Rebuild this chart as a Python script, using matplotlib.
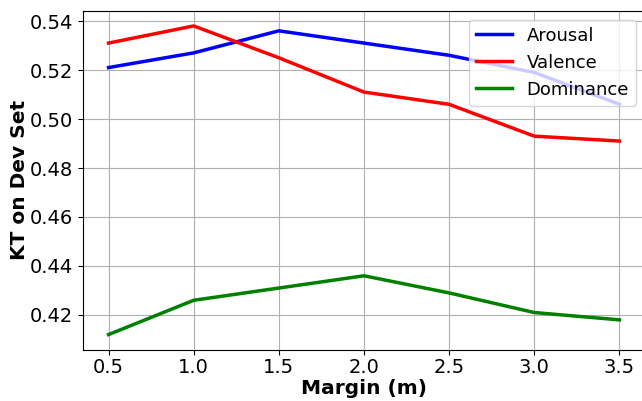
import matplotlib
matplotlib.use("Agg")
import matplotlib.pyplot as plt

margin = [0.5, 1.0, 1.5, 2.0, 2.5, 3.0, 3.5]
arousal = [0.521, 0.527, 0.536, 0.531, 0.526, 0.519, 0.506]
valence = [0.531, 0.538, 0.525, 0.511, 0.506, 0.493, 0.491]
dominance = [0.412, 0.426, 0.431, 0.436, 0.429, 0.421, 0.418]

fig = plt.figure(figsize=(6.42, 4.01), dpi=100)
ax = fig.add_axes([83 / 642, 51 / 401, 562 / 642, 339.5 / 401])

ax.plot(margin, arousal, color="blue", linewidth=2.5, label="Arousal")
ax.plot(margin, valence, color="red", linewidth=2.5, label="Valence")
ax.plot(margin, dominance, color="green", linewidth=2.5, label="Dominance")

ax.set_xticks(margin)
ax.tick_params(labelsize=14)
ax.tick_params(axis="x", pad=2.5)
ax.set_xlabel("Margin (m)", fontsize=14.5, fontweight="bold", labelpad=1)
ax.set_ylabel("KT on Dev Set", fontsize=14.5, fontweight="bold", labelpad=1)
ax.grid(True)
ax.legend(loc="upper right", fontsize=13)

fig.savefig("out.png", dpi=100)
